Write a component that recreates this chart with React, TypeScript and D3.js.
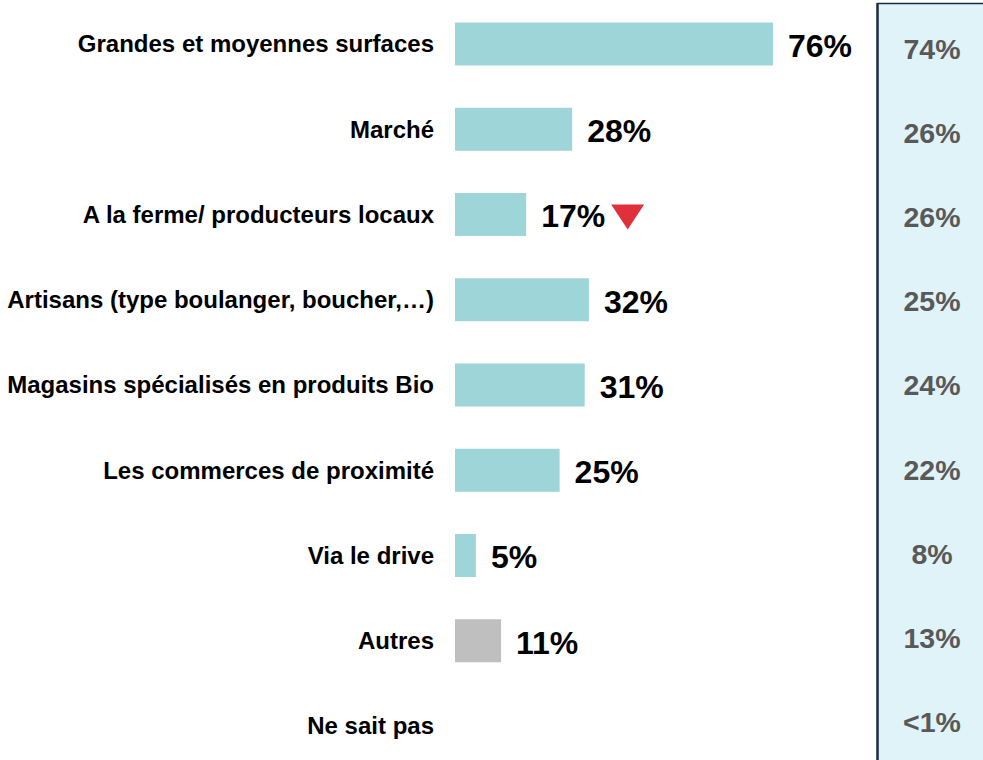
import React, { useRef, useEffect } from 'react';
import * as d3 from 'd3';

const categories = [
  'Grandes et moyennes surfaces',
  'Marché',
  'A la ferme/ producteurs locaux',
  'Artisans (type boulanger, boucher,…)',
  'Magasins spécialisés en produits Bio',
  'Les commerces de proximité',
  'Via le drive',
  'Autres',
  'Ne sait pas',
];
const currentValues: (number | null)[] = [76, 28, 17, 32, 31, 25, 5, 11, null];
const previousLabels = ['74%', '26%', '26%', '25%', '24%', '22%', '8%', '13%', '<1%'];
const downMarks = [false, false, true, false, false, false, false, false, false];

const W = 983;
const H = 760;
const FONT = '"Liberation Sans", Arial, Helvetica, sans-serif';

const App = () => {
  const svgRef = useRef<SVGSVGElement | null>(null);

  useEffect(() => {
    const svg = d3.select(svgRef.current);
    svg.selectAll('*').remove();

    const x = d3.scaleLinear().domain([0, 76]).range([455, 773]);
    const y = d3.scalePoint<string>().domain(categories).range([44, 726]);
    const yPanel = d3.scalePoint<string>().domain(categories).range([49, 722]);
    const barH = 43;

    // right-hand comparison panel
    svg
      .append('rect')
      .attr('x', 877)
      .attr('y', 3)
      .attr('width', W - 877 + 2)
      .attr('height', H)
      .attr('fill', '#dff3f8');
    svg
      .append('line')
      .attr('x1', 877.5)
      .attr('x2', 877.5)
      .attr('y1', 3)
      .attr('y2', H)
      .attr('stroke', '#1b2a44')
      .attr('stroke-width', 2.5);
    svg
      .append('line')
      .attr('x1', 877)
      .attr('x2', W)
      .attr('y1', 3.5)
      .attr('y2', 3.5)
      .attr('stroke', '#1b2a44')
      .attr('stroke-width', 1.5);

    svg
      .append('g')
      .selectAll('text')
      .data(categories)
      .join('text')
      .attr('x', 932)
      .attr('y', (d) => yPanel(d)!)
      .attr('dy', '0.35em')
      .attr('text-anchor', 'middle')
      .attr('font-family', FONT)
      .attr('font-weight', 'bold')
      .attr('font-size', 28.5)
      .attr('fill', '#595959')
      .text((d, i) => previousLabels[i]);

    // category labels
    svg
      .append('g')
      .selectAll('text')
      .data(categories)
      .join('text')
      .attr('x', 434)
      .attr('y', (d) => y(d)!)
      .attr('dy', '0.35em')
      .attr('text-anchor', 'end')
      .attr('font-family', FONT)
      .attr('font-weight', 'bold')
      .attr('font-size', 24)
      .attr('fill', '#000')
      .text((d) => d);

    const rows = categories
      .map((c, i) => ({ c, v: currentValues[i], down: downMarks[i] }))
      .filter((r) => r.v !== null) as { c: string; v: number; down: boolean }[];

    svg
      .append('g')
      .selectAll('rect')
      .data(rows)
      .join('rect')
      .attr('x', x(0))
      .attr('y', (d) => y(d.c)! - barH / 2)
      .attr('width', (d) => x(d.v) - x(0))
      .attr('height', barH)
      .attr('fill', (d) => (d.c === 'Autres' ? '#bfbfbf' : '#9dd5d9'));

    const vals = svg
      .append('g')
      .selectAll('text')
      .data(rows)
      .join('text')
      .attr('x', (d) => x(d.v) + 15)
      .attr('y', (d) => y(d.c)!)
      .attr('dy', '0.4em')
      .attr('font-family', FONT)
      .attr('font-weight', 'bold')
      .attr('font-size', 32)
      .attr('fill', '#000')
      .text((d) => `${d.v}%`);

    // red down triangle after flagged values
    vals.each(function (d) {
      if (!d.down) return;
      const bb = (this as SVGTextElement).getBBox();
      const x0 = bb.x + bb.width + 6;
      const cy = y(d.c)!;
      svg
        .append('path')
        .attr('d', `M${x0},${cy - 10}L${x0 + 33},${cy - 10}L${x0 + 16.5},${cy + 15}Z`)
        .attr('fill', '#e0313a');
    });
  }, []);

  return (
    <svg
      ref={svgRef}
      width={W}
      height={H}
      style={{ position: 'absolute', left: 0, top: 0, background: '#fff' }}
    />
  );
};

export default App;
